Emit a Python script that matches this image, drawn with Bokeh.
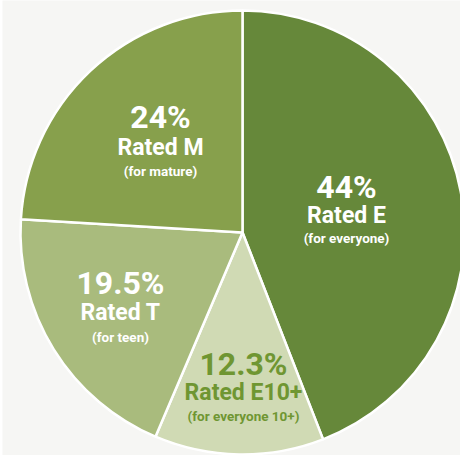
import numpy as np
from bokeh.plotting import figure
from bokeh.models import ColumnDataSource, Range1d
from bokeh.core.properties import value
from bokeh.embed import file_html
from bokeh.resources import INLINE

# ---- data ----
ratings = ["Rated E", "Rated E10+", "Rated T", "Rated M"]
subtitles = ["(for everyone)", "(for everyone 10+)", "(for teen)", "(for mature)"]
shares = [44.0, 12.3, 19.5, 24.0]
pct_labels = ["44%", "12.3%", "19.5%", "24%"]

# ---- style ----
colors = ["#66883a", "#d0dab4", "#a9bb7d", "#87a04c"]
text_colors = ["white", "#6f9632", "white", "white"]
W, H = 460, 455
cx, cy_px, R = 242, 232, 222
# label centres (pixel coords, y from top)
lab_x = [346, 243, 120, 160]
pct_y = [186, 363, 282, 116]
rat_y = [215, 392, 312, 147]
sub_y = [237, 415, 336, 170]

FONT = "Roboto"

vals = np.array(shares)
frac = vals / vals.sum()
cum = np.concatenate([[0], np.cumsum(frac)]) * 2 * np.pi
start = np.pi / 2 - cum[:-1]
end = np.pi / 2 - cum[1:]

src = ColumnDataSource(dict(start=start, end=end, color=colors))

p = figure(width=W, height=H, output_backend="svg", toolbar_location=None,
           x_range=Range1d(2, W), y_range=Range1d(0, H),
           min_border_left=2, min_border_right=0, min_border_top=0, min_border_bottom=0)
p.axis.visible = False
p.grid.visible = False
p.outline_line_color = None
p.background_fill_color = "#f6f6f4"
p.border_fill_color = "white"

p.wedge(x=cx, y=H - cy_px, radius=R, start_angle="start", end_angle="end",
        direction="clock", fill_color="color", line_color="white", line_width=2.5,
        source=src)

tsrc = ColumnDataSource(dict(
    x=lab_x, py=[H - v for v in pct_y], ry=[H - v for v in rat_y], sy=[H - v for v in sub_y],
    pct=pct_labels, rat=ratings, sub=subtitles, tc=text_colors))

common = dict(x="x", text_align="center", text_baseline="middle",
              text_color="tc", text_font=value(FONT), text_font_style="bold", source=tsrc)
p.text(y="py", text="pct", text_font_size="32px", **common)
p.text(y="ry", text="rat", text_font_size="23px", **common)
p.text(y="sy", text="sub", text_font_size="13.5px", **common)

open("out.html", "w").write(file_html(p, INLINE))
